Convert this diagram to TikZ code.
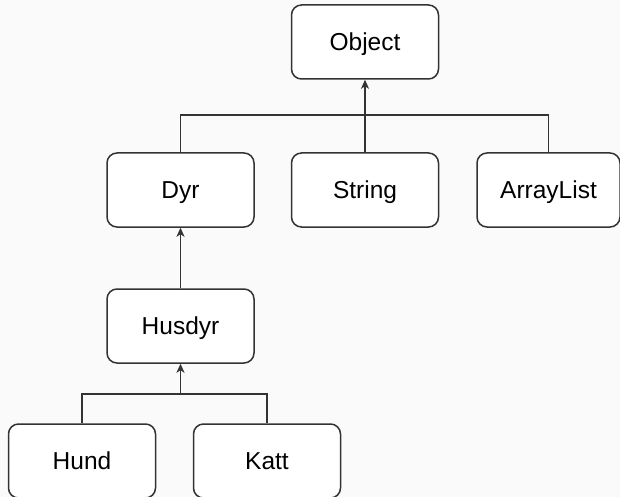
\documentclass[tikz,border=0pt]{standalone}
\usepackage{fontspec}
\setmainfont{Liberation Sans}
\usetikzlibrary{arrows.meta}
\definecolor{bg}{HTML}{FAFAFA}
\definecolor{ln}{HTML}{333333}
\begin{document}
\begin{tikzpicture}[x=1pt,y=-1pt,
  cls/.style={draw=ln, line width=1.5pt, rounded corners=10pt, fill=white,
    minimum width=147pt, minimum height=74pt, inner sep=0pt,
    text height=17.5pt, text depth=0pt,
    font=\fontsize{24.5}{28}\selectfont, text=black},
  conn/.style={draw=ln, line width=1.5pt},
  arr/.style={conn, -{Stealth[length=9pt,width=8pt,inset=2.5pt]}}]
\fill[bg] (0,0) rectangle (620,497);
\useasboundingbox (0,0) rectangle (620,497);
\node[cls] (Object) at (365,42) {Object};
\node[cls] (Dyr) at (180.5,190) {Dyr};
\node[cls] (String) at (365,190) {String};
\node[cls, minimum width=143pt] (ArrayList) at (548.5,190) {ArrayList};
\node[cls] (Husdyr) at (180.5,326) {Husdyr};
\node[cls] (Hund) at (82,461) {Hund};
\node[cls] (Katt) at (267,461) {Katt};
\draw[conn] (Dyr.north) -- ++(0,-37) -| (ArrayList.north);
\draw[arr] (String.north) -- (Object.south);
\draw[arr] (Husdyr.north) -- (Dyr.south);
\path (Husdyr.south) ++(0,30) coordinate (j2);
\draw[conn] (Hund.north) |- (j2) -| (Katt.north);
\draw[arr] (j2) -- (Husdyr.south);
\end{tikzpicture}
\end{document}
